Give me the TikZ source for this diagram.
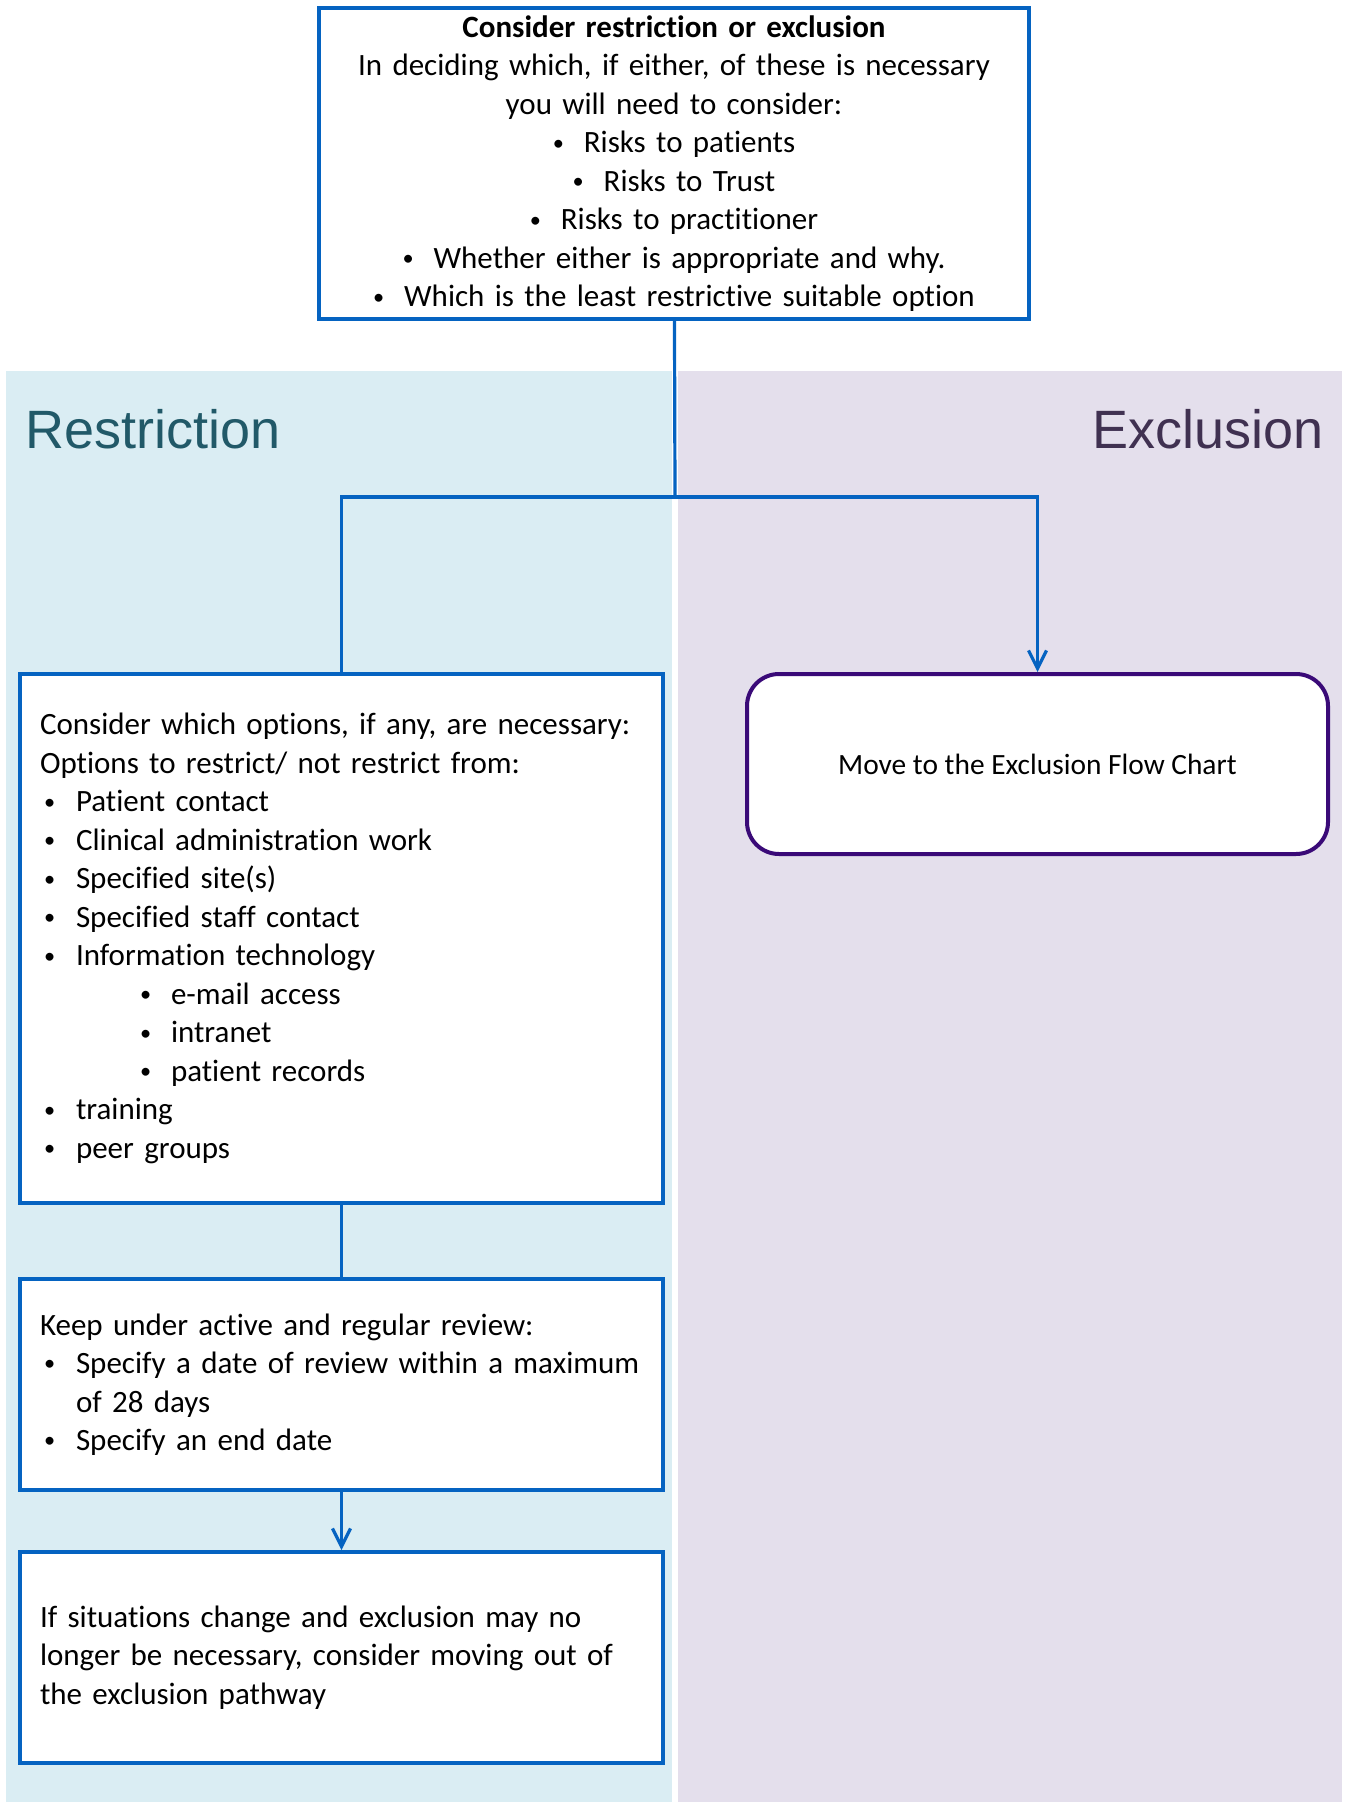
\documentclass[tikz,border=0pt]{standalone}
\usepackage{fontspec}
\setmainfont[Ligatures=NoCommon]{Carlito}
\newfontfamily\headfont{Liberation Sans}
\usetikzlibrary{arrows.meta}

\definecolor{linkblue}{HTML}{0563C1}
\definecolor{restrictbg}{HTML}{DAEDF3}
\definecolor{excludebg}{HTML}{E4DFEC}
\definecolor{restricttext}{HTML}{215968}
\definecolor{excludetext}{HTML}{403151}
\definecolor{movepurple}{HTML}{3A0A78}

\newcommand{\dotmark}{\raisebox{1.3pt}{\scalebox{0.72}{\textbullet}}}
\newcommand{\itm}{\hspace*{2pt}\makebox[16pt][l]{\dotmark}}
\newcommand{\subitm}{\hspace*{50pt}\makebox[15.5pt][l]{\dotmark}}
\newcommand{\ctritm}{\makebox[15.5pt][l]{\dotmark}}

\begin{document}
\begin{tikzpicture}[x=0.5pt,y=-0.5pt,>={Straight Barb[length=9pt,width=9pt]},
      link/.style={draw=linkblue,line width=1.6pt},
      box/.style={draw=linkblue,line width=2pt,fill=white,inner xsep=10pt,
        inner ysep=0pt,minimum width=321.5pt,text width=301.5pt,align=left,
        font=\fontsize{15.5}{19.25}\selectfont},
      head/.style={inner sep=0pt,font=\headfont\fontsize{27}{27}\selectfont}]

      \useasboundingbox (0,0) rectangle (1349,1802);

      % two lanes
      \fill[restrictbg] (6,371) rectangle (672,1802);
      \fill[excludebg] (678,371) rectangle (1342,1802);
      \node[head,anchor=west,text=restricttext] (restricthead) at (25,429) {Restriction};
      \node[head,anchor=east,text=excludetext] (excludehead) at (1324,429) {Exclusion};

      \node[box,minimum width=355pt,text width=345pt,inner xsep=5pt,
        minimum height=155.5pt,align=center] (decide) at (674,163.5)
      { \textbf{Consider restriction or exclusion}\\
        In deciding which, if either, of these is necessary\\
        you will need to consider:\\
        \ctritm Risks to patients\\
        \ctritm Risks to Trust\\
        \ctritm Risks to practitioner\\
        \ctritm Whether either is appropriate and why.\\
        \ctritm Which is the least restrictive suitable option };

      \node[box,minimum height=264.5pt] (options) at (341.5,938.5)
      { Consider which options, if any, are necessary:\\
        Options to restrict/ not restrict from:\\
        \itm Patient contact\\
        \itm Clinical administration work\\
        \itm Specified site(s)\\
        \itm Specified staff contact\\
        \itm Information technology\\
        \subitm e-mail access\\
        \subitm intranet\\
        \subitm patient records\\
        \itm training\\
        \itm peer groups };

      \node[box,minimum height=105.5pt] (review) at (341.5,1384.5)
      { Keep under active and regular review:\\
        \itm Specify a date of review within a maximum\\
        \hspace*{18pt}of 28 days\\
        \itm Specify an end date };

      \node[box,minimum height=105.5pt] (change) at (341.5,1657.5)
      { If situations change and exclusion may no\\
        longer be necessary, consider moving out of\\
        the exclusion pathway };

      \node[draw=movepurple,line width=2pt,fill=white,rounded corners=16pt,
        minimum width=290.5pt,minimum height=90pt,
        font=\fontsize{14.7}{17}\selectfont] (move) at (1037.5,764)
      { Move to the Exclusion Flow Chart };

      \coordinate (fork) at (675,497);

      \draw[link] (decide) -- (fork);
      \draw[link] (fork) -| (options.north);
      \draw[link,->] (fork) -| (move.north);
      \draw[link] (options) -- (review);
      \draw[link,->] (review) -- (change);
    \end{tikzpicture}
\end{document}
